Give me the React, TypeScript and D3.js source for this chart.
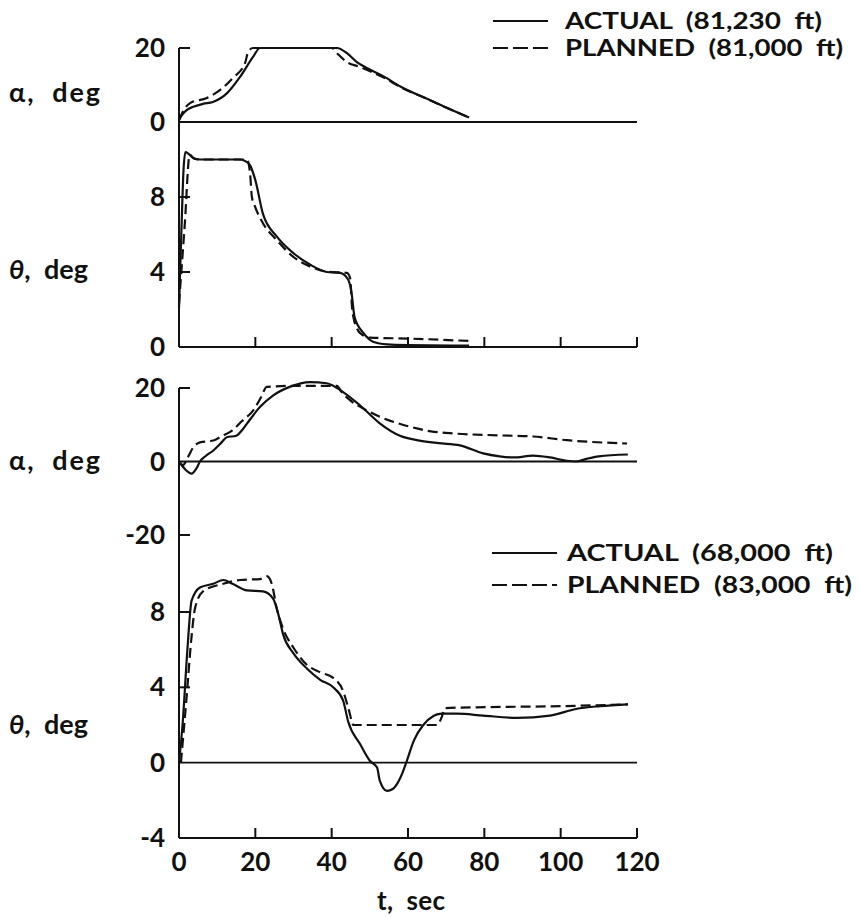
import React, { useEffect, useRef } from 'react';
import * as d3 from 'd3';

type Pt = [number, number];

const timeTicks = [20, 40, 60, 80, 100, 120];
const timeLabels = [0, 20, 40, 60, 80, 100, 120];
const alphaTopTicks = [0, 20];
const thetaTopTicks = [0, 4, 8];
const alphaBottomTicks = [-20, 0, 20];
const thetaBottomTicks = [-4, 0, 4, 8];

const NB = '\u00A0';
const legendTop = [`ACTUAL${NB}${NB}(81,230${NB}${NB}ft)`, `PLANNED${NB}${NB}(81,000${NB}${NB}ft)`];
const legendBottom = [`ACTUAL${NB}${NB}(68,000${NB}${NB}ft)`, `PLANNED${NB}${NB}(83,000${NB}${NB}ft)`];

// flight 1, angle of attack
const alphaTopActual: Pt[] = [
  [0, 0.5], [0.8, 1.9], [2, 3.2], [3.7, 4.1], [6.3, 4.9], [8.9, 5.4], [12.6, 7.8],
  [16, 12.2], [19.4, 17.6], [21.2, 20], [30, 20], [41.4, 20], [44, 18.6], [46.6, 16.2],
  [49.2, 14.6], [53.5, 12.4], [58, 9.6], [65.8, 5.9], [70, 3.9], [76, 1.2],
];
const alphaTopPlanned: Pt[] = [
  [0, 0.5], [0.8, 2.4], [2.9, 5.1], [7.3, 6.5], [10.7, 8.6], [14.1, 11.9], [17.3, 15.9],
  [18.1, 18.9], [19.4, 20], [30, 20], [40, 20], [41.4, 18.6], [44, 16.2], [47.4, 14.9],
  [49.2, 14.1], [53.5, 12.1], [57.9, 9.5], [65.8, 5.9], [70, 3.9], [76, 1.2],
];

// flight 1, pitch
const thetaTopActual: Pt[] = [
  [0, 2.1], [0.6, 6], [1.2, 9.5], [1.7, 10.4], [2.5, 10.3], [4, 10.05], [5.5, 10],
  [16, 10], [17.5, 9.9], [18.6, 9.7], [20, 8.9], [22, 7.1], [25.6, 5.9], [30, 5.0],
  [34.3, 4.4], [38.7, 4.0], [42.2, 3.95], [44.3, 3.6], [45.2, 2.9], [46, 1.6],
  [48.3, 0.75], [51, 0.27], [54.5, 0.14], [60, 0.1], [76, 0.07],
];
const thetaTopPlanned: Pt[] = [
  [0, 2.3], [1.5, 6.5], [2.8, 10.25], [4, 10.05], [6, 10], [17.8, 10], [18.6, 9.3],
  [19.1, 8.0], [19.9, 7.5], [22, 6.6], [25.6, 5.7], [30, 4.8], [34.3, 4.3], [38.7, 4.02],
  [44, 3.95], [44.8, 3.7], [45.1, 3.0], [45.3, 2.2], [45.8, 1.5], [46.6, 1.0], [48, 0.65],
  [50, 0.5], [60, 0.45], [76, 0.32],
];

// flight 2, angle of attack
const alphaBottomActual: Pt[] = [
  [0, 0], [1.5, -2], [3.3, -3.3], [4.5, -2], [5.5, 0], [7, 1.5], [9, 3], [11, 5],
  [12.5, 6.6], [15, 7], [16.5, 8.5], [17.8, 10.3], [21.2, 14.8], [24.7, 18], [29, 20.3],
  [34.3, 21.6], [38.7, 21.3], [43, 18.9], [47.4, 15.3], [52.6, 10.4], [57.9, 7], [63, 5.7],
  [68, 5], [73.6, 4.4], [79.7, 2.2], [84, 1.4], [87.6, 1.1], [92.8, 1.6], [97.2, 1.1],
  [101.6, 0.2], [104, 0], [107, 0.8], [110, 1.4], [117.6, 1.9],
];
const alphaBottomPlanned: Pt[] = [
  [0, 0], [1, -1], [2.5, 1.5], [3.7, 3.8], [5.5, 5.2], [9, 5.7], [11, 6.8], [14, 8.5],
  [16.5, 11], [19.5, 14], [21.5, 17.5], [23, 20.3], [30, 20.6], [41.4, 20.6], [42.5, 19],
  [44.8, 16.7], [49, 14], [53, 12], [58, 10.2], [62.3, 9], [66, 8.2], [71, 7.7], [84, 7.1],
  [92.8, 6.8], [101.6, 5.8], [117.4, 4.9],
];

// flight 2, pitch
const thetaBottomActual: Pt[] = [
  [0, 0], [1, 2.2], [2.2, 6], [3.3, 8.6], [5.5, 9.3], [9, 9.5], [11.6, 9.7], [14, 9.5],
  [17.8, 9.15], [22, 9.1], [24.7, 8.7], [26, 7.9], [27.3, 6.8], [30, 5.8], [33.5, 5.0],
  [37, 4.4], [40.4, 4.0], [43, 3.3], [44.3, 2.2], [47.4, 1.0], [50, 0.1], [51.9, -0.26],
  [52.6, -0.95], [54.5, -1.5], [56, -1.4], [58, -0.8], [59.7, 0.1], [61.5, 1.16], [64, 2.0],
  [68.8, 2.6], [72.8, 2.6], [79.7, 2.5], [88.5, 2.38], [97.2, 2.5], [104, 2.85],
  [110.3, 3.0], [117.6, 3.1],
];
const thetaBottomPlanned: Pt[] = [
  [0.5, 0], [2, 3.5], [3.2, 6.5], [4.2, 8.2], [6.3, 9.1], [11.6, 9.5], [16, 9.7],
  [21.2, 9.75], [23, 9.9], [24.3, 9.5], [25.6, 8.2], [27.3, 7.1], [30, 6.1], [33.5, 5.2],
  [37, 4.8], [40.4, 4.5], [43, 3.8], [44.5, 2.8], [45.7, 2.0], [67.6, 2.0], [68.8, 2.4],
  [69.7, 2.9], [85, 2.96], [100, 3.0], [117.6, 3.1],
];

const FONT = 'Lato, "Open Sans", sans-serif';

function App() {
  const svgRef = useRef<SVGSVGElement>(null);

  useEffect(() => {
    const svg = d3.select(svgRef.current);
    svg.selectAll('*').remove();

    const x = d3.scaleLinear().domain([0, 120]).range([179, 637]);
    const yA1 = d3.scaleLinear().domain([0, 20]).range([122, 48]);
    const yT1 = d3.scaleLinear().domain([0, 8]).range([347, 197]);
    const yA2 = d3.scaleLinear().domain([-20, 20]).range([535, 388]);
    const yT2 = d3.scaleLinear().domain([-4, 8]).range([838, 612]);

    const g = svg.append('g').attr('stroke', '#111').attr('fill', 'none');

    const hline = (y: number, w: number) =>
      g.append('line').attr('x1', x(0)).attr('x2', x(120)).attr('y1', y).attr('y2', y).attr('stroke-width', w);

    // left axes
    g.append('line').attr('x1', x(0)).attr('x2', x(0)).attr('y1', yA1(20)).attr('y2', yT1(0)).attr('stroke-width', 2);
    g.append('line').attr('x1', x(0)).attr('x2', x(0)).attr('y1', yA2(20)).attr('y2', yT2(-4)).attr('stroke-width', 2);

    // zero lines and bottom axes
    hline(yA1(0), 2);
    hline(yT1(0), 2);
    hline(yA2(0), 1.8);
    hline(yT2(0), 1.8);
    hline(yT2(-4), 2);

    // x ticks
    timeTicks.forEach((t) => {
      [yT1(0), yT2(-4)].forEach((yy) => {
        g.append('line').attr('x1', x(t)).attr('x2', x(t)).attr('y1', yy).attr('y2', yy - 10).attr('stroke-width', 2);
      });
    });

    // y ticks (inward)
    const yTick = (yy: number) =>
      g.append('line').attr('x1', x(0)).attr('x2', x(0) + 11).attr('y1', yy).attr('y2', yy).attr('stroke-width', 2);
    yTick(yA1(20));
    [4, 8].forEach((v) => yTick(yT1(v)));
    [20, -20].forEach((v) => yTick(yA2(v)));
    [4, 8].forEach((v) => yTick(yT2(v)));

    // curves
    const drawLine = (data: Pt[], ys: d3.ScaleLinear<number, number>, dashed: boolean) => {
      const line = d3.line<Pt>()
        .x((d) => x(d[0]))
        .y((d) => ys(d[1]))
        .curve(d3.curveMonotoneX);
      g.append('path')
        .datum(data)
        .attr('d', line)
        .attr('stroke-width', 2.2)
        .attr('stroke-linejoin', 'round')
        .attr('stroke-dasharray', dashed ? '10,5' : null);
    };
    drawLine(alphaTopActual, yA1, false);
    drawLine(alphaTopPlanned, yA1, true);
    drawLine(thetaTopActual, yT1, false);
    drawLine(thetaTopPlanned, yT1, true);
    drawLine(alphaBottomActual, yA2, false);
    drawLine(alphaBottomPlanned, yA2, true);
    drawLine(thetaBottomActual, yT2, false);
    drawLine(thetaBottomPlanned, yT2, true);

    // text
    const txt = svg.append('g')
      .attr('fill', '#111')
      .attr('font-family', FONT)
      .attr('font-weight', 700);

    const yLabel = (v: number, yy: number) =>
      txt.append('text').attr('x', 165).attr('y', yy + 9).attr('text-anchor', 'end')
        .attr('font-size', 26).text(String(v));
    alphaTopTicks.forEach((v) => yLabel(v, yA1(v)));
    thetaTopTicks.forEach((v) => yLabel(v, yT1(v)));
    alphaBottomTicks.forEach((v) => yLabel(v, yA2(v)));
    thetaBottomTicks.forEach((v) => yLabel(v, yT2(v)));

    timeLabels.forEach((t) => {
      txt.append('text').attr('x', x(t)).attr('y', 871).attr('text-anchor', 'middle')
        .attr('font-size', 26).text(String(t));
    });
    txt.append('text').attr('x', 377).attr('y', 910)
      .attr('font-size', 26).attr('textLength', 68).attr('lengthAdjust', 'spacing')
      .text(`t,${NB}${NB}sec`);

    const sideLabel = (sym: string, yy: number, len: number, italic: boolean) => {
      const t = txt.append('text').attr('x', 9).attr('y', yy).attr('font-size', 27)
        .attr('textLength', len).attr('lengthAdjust', 'spacing');
      t.append('tspan').attr('font-style', italic ? 'italic' : null).text(sym);
      t.append('tspan').text(`,${NB}${NB}deg`);
    };
    sideLabel('α', 102, 91, false);
    sideLabel('θ', 279, 79, true);
    sideLabel('α', 470, 91, false);
    sideLabel('θ', 734, 79, true);

    const legend = (labels: string[], y1: number, y2: number, x1: number, x2: number, tx: number, lens: number[]) => {
      g.append('line').attr('x1', x1).attr('x2', x2).attr('y1', y1).attr('y2', y1).attr('stroke-width', 2);
      g.append('line').attr('x1', x1).attr('x2', x2).attr('y1', y2).attr('y2', y2).attr('stroke-width', 2)
        .attr('stroke-dasharray', '15,5');
      [y1, y2].forEach((yy, i) => {
        txt.append('text').attr('x', tx).attr('y', yy + 8).attr('font-size', 22)
          .attr('textLength', lens[i]).attr('lengthAdjust', 'spacingAndGlyphs').text(labels[i]);
      });
    };
    legend(legendTop, 21, 48, 493, 548, 565, [257, 278]);
    legend(legendBottom, 553, 585, 492, 557, 567, [266, 285]);
  }, []);

  return (
    <svg
      ref={svgRef}
      width={860}
      height={917}
      style={{ position: 'absolute', left: 0, top: 0, background: '#fff' }}
    />
  );
}

export default App;
